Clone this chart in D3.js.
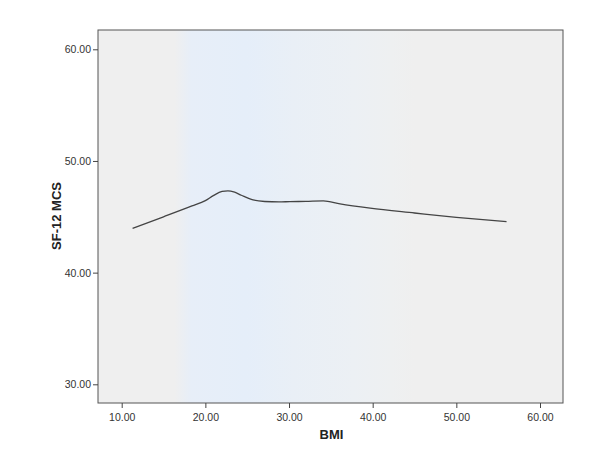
<!DOCTYPE html>
<html><head><meta charset="utf-8">
<script src="https://cdn.jsdelivr.net/npm/d3@7"></script>
<style>body{margin:0;background:#fff}svg{display:block}</style>
</head><body>
<script>
const bmi = [11.3, 15.0, 18.4, 20.0, 21.0, 22.0, 22.7, 23.5, 24.3, 25.7, 27.1, 28.8, 30.1, 32.0, 34.1, 36.1, 39.7, 45.0, 50.0, 56.0];
const mcs = [43.97, 45.0, 45.97, 46.45, 46.92, 47.27, 47.33, 47.2, 46.93, 46.51, 46.37, 46.33, 46.36, 46.38, 46.42, 46.15, 45.77, 45.34, 44.95, 44.56];
const xTicks = [10, 20, 30, 40, 50, 60];
const yTicks = [30, 40, 50, 60];
const xLabel = "BMI", yLabel = "SF-12 MCS";

const W = 600, H = 459;
const L = 98, R = 563, T = 30, B = 403;
const x = d3.scaleLinear().domain([10, 60]).range([121.7, 540]);
const y = d3.scaleLinear().domain([30, 60]).range([384.3, 49.3]);

const svg = d3.select("body").append("svg").attr("width", W).attr("height", H);
const defs = svg.append("defs");
const g = defs.append("linearGradient").attr("id", "band").attr("x1", 0).attr("x2", 1).attr("y1", 0).attr("y2", 0);
const stops = [[0, "#efefef"], [0.165, "#efefef"], [0.2, "#e7eef8"], [0.32, "#e5eef9"], [0.42, "#e9eff6"], [0.55, "#ecf0f4"], [0.63, "#eef0f1"], [0.68, "#efefef"], [1, "#efefef"]];
stops.forEach(s => g.append("stop").attr("offset", s[0]).attr("stop-color", s[1]));

svg.append("rect").attr("x", L).attr("y", T).attr("width", R - L).attr("height", B - T)
  .attr("fill", "url(#band)");

const line = d3.line().x((d, i) => x(bmi[i])).y((d, i) => y(mcs[i])).curve(d3.curveMonotoneX);
svg.append("path").datum(bmi).attr("d", line).attr("fill", "none")
  .attr("stroke", "#444").attr("stroke-width", 1.3);

svg.append("rect").attr("x", L).attr("y", T).attr("width", R - L).attr("height", B - T)
  .attr("fill", "none").attr("stroke", "#555").attr("stroke-width", 1);

const xa = svg.append("g").attr("transform", `translate(0,${B})`)
  .call(d3.axisBottom(x).tickValues(xTicks).tickFormat(d3.format(".2f")).tickSize(5).tickPadding(6));
const ya = svg.append("g").attr("transform", `translate(${L},0)`)
  .call(d3.axisLeft(y).tickValues(yTicks).tickFormat(d3.format(".2f")).tickSize(5).tickPadding(2));
[xa, ya].forEach(a => {
  a.select(".domain").remove();
  a.selectAll("line").attr("stroke", "#444");
  a.selectAll("text").attr("fill", "#333").style("font-family", "Arial, 'Liberation Sans', sans-serif").style("font-size", "10.5px");
});

svg.append("text").attr("x", 331.5).attr("y", 439).attr("text-anchor", "middle")
  .style("font-family", "Arial, 'Liberation Sans', sans-serif").style("font-size", "13px").style("font-weight", "bold").attr("fill", "#222").text(xLabel);
svg.append("text").attr("transform", "translate(61,216) rotate(-90)").attr("text-anchor", "middle")
  .style("font-family", "Arial, 'Liberation Sans', sans-serif").style("font-size", "13px").style("font-weight", "bold").attr("fill", "#222").text(yLabel);
</script>
</body></html>
